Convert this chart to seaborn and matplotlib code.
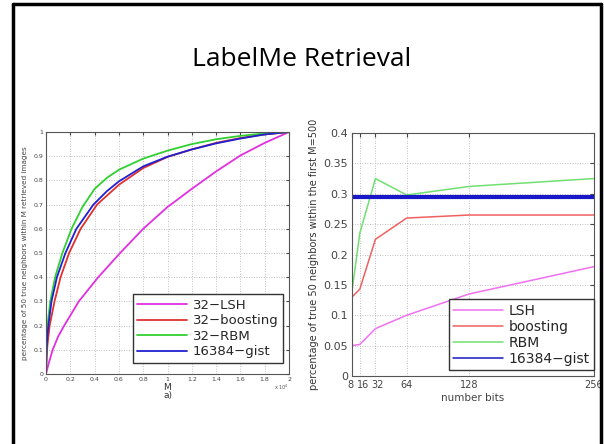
import numpy as np
import pandas as pd
import matplotlib
matplotlib.use("Agg")
import matplotlib.pyplot as plt
import matplotlib.transforms as mtransforms
import seaborn as sns
from matplotlib.lines import Line2D

# left plot: recall curves vs M (x 10^4)
lsh_x = [0, 0.02, 0.055, 0.1, 0.15, 0.27, 0.43, 0.61, 0.8, 1.0, 1.2, 1.4, 1.6, 1.8, 2.0]
lsh_y = [0, 0.04, 0.1, 0.155, 0.2, 0.3, 0.4, 0.5, 0.6, 0.69, 0.765, 0.837, 0.903, 0.955, 1.0]
boost_x = [0, 0.005, 0.012, 0.03, 0.07, 0.12, 0.19, 0.285, 0.42, 0.6, 0.8, 1.0, 1.2, 1.4, 1.6, 1.8, 2.0]
boost_y = [0, 0.07, 0.12, 0.2, 0.3, 0.4, 0.5, 0.6, 0.7, 0.782, 0.851, 0.897, 0.928, 0.955, 0.975, 0.99, 1.0]
rbm_x = [0, 0.004, 0.012, 0.035, 0.075, 0.135, 0.21, 0.3, 0.4, 0.5, 0.6, 0.8, 1.0, 1.2, 1.4, 1.6, 1.8, 2.0]
rbm_y = [0, 0.1, 0.2, 0.3, 0.4, 0.5, 0.6, 0.69, 0.765, 0.81, 0.844, 0.89, 0.923, 0.95, 0.97, 0.984, 0.994, 1.0]
gist_x = [0, 0.005, 0.01, 0.02, 0.045, 0.09, 0.16, 0.25, 0.39, 0.5, 0.6, 0.8, 1.0, 1.2, 1.4, 1.6, 1.8, 2.0]
gist_y = [0, 0.1, 0.15, 0.2, 0.3, 0.4, 0.5, 0.6, 0.7, 0.755, 0.796, 0.858, 0.898, 0.928, 0.953, 0.973, 0.99, 1.0]

# right plot: precision vs number of bits
bits = [8, 16, 32, 64, 128, 256]
lsh_b = [0.05, 0.052, 0.078, 0.1, 0.135, 0.18]
boost_b = [0.13, 0.143, 0.225, 0.26, 0.265, 0.265]
rbm_b = [0.14, 0.235, 0.325, 0.298, 0.312, 0.325]
gist_b = [0.295] * 6

sns.set_style("white")
plt.rcParams['font.family'] = ['DejaVu Sans']

fig = plt.figure(figsize=(6.04, 4.44), dpi=100)
W, H = 604, 444

def box(l, t, r, b):
    return [l / W, 1 - b / H, (r - l) / W, (b - t) / H]

ax1 = fig.add_axes(box(46, 132, 289, 374))
ax2 = fig.add_axes(box(352, 133, 594, 376))

# left
sns.lineplot(x=lsh_x, y=lsh_y, ax=ax1, color='#e030e0', lw=1.3, label='32\u2212LSH')
sns.lineplot(x=boost_x, y=boost_y, ax=ax1, color='#e03030', lw=1.3, label='32\u2212boosting')
sns.lineplot(x=rbm_x, y=rbm_y, ax=ax1, color='#30d030', lw=1.3, label='32\u2212RBM')
sns.lineplot(x=gist_x, y=gist_y, ax=ax1, color='#2020d0', lw=1.3, label='16384\u2212gist')
ax1.set_xlim(0, 2)
ax1.set_ylim(0, 1)
ax1.set_xticks(np.arange(0, 2.01, 0.2))
ax1.set_xticklabels(['0', '0.2', '0.4', '0.6', '0.8', '1', '1.2', '1.4', '1.6', '1.8', '2'])
ax1.set_yticks(np.arange(0, 1.01, 0.1))
ax1.set_yticklabels(['0', '0.1', '0.2', '0.3', '0.4', '0.5', '0.6', '0.7', '0.8', '0.9', '1'])
ax1.tick_params(labelsize=4.5, direction='in', length=2, colors='#444444', pad=2)
ax1.set_xlabel('M\na)', fontsize=6.5, labelpad=1, color='#333333', linespacing=0.9)
ax1.set_ylabel('percentage of 50 true neighbors within M retrieved images', fontsize=5.2,
               color='#444444', labelpad=4)
ax1.text(1.0, -0.035, 'x 10$^4$', transform=ax1.transAxes, fontsize=3.5, color='#555555',
         ha='right', va='top')
ax1.legend(loc='lower right', bbox_to_anchor=(0.975, 0.045), borderaxespad=0, fontsize=9.5,
           handlelength=3.8, fancybox=False, framealpha=1, edgecolor='#333333',
           borderpad=0.35, labelspacing=0.2, handletextpad=0.4)

# right
sns.lineplot(x=bits, y=lsh_b, ax=ax2, color='#f070f0', lw=1.1, label='LSH')
sns.lineplot(x=bits, y=boost_b, ax=ax2, color='#f06060', lw=1.1, label='boosting')
sns.lineplot(x=bits, y=rbm_b, ax=ax2, color='#70e070', lw=1.1, label='RBM')
sns.lineplot(x=bits, y=gist_b, ax=ax2, color='#1818c8', lw=3, label='16384\u2212gist')
ax2.set_xlim(8, 256)
ax2.set_ylim(0, 0.4)
ax2.set_xticks(bits)
ax2.set_xticklabels(['8', '16', '32', '64', '128', '256'])
ax2.set_yticks(np.arange(0, 0.401, 0.05))
ax2.set_yticklabels(['0', '0.05', '0.1', '0.15', '0.2', '0.25', '0.3', '0.35', '0.4'])
ax2.tick_params(labelsize=8, direction='in', length=3, colors='#444444', pad=3)
ax2.tick_params(axis='x', labelsize=7)
# crowded labels at 8/16/32: nudge apart a little
for lab, dx in zip(ax2.get_xticklabels()[:3], [-1.5, 3.5, 2.5]):
    lab.set_transform(lab.get_transform() +
                      mtransforms.ScaledTranslation(dx / 100, 0, fig.dpi_scale_trans))
ax2.set_xlabel('number bits', fontsize=7.5, color='#444444', labelpad=2)
ax2.set_ylabel('percentage of true 50 neighbors within the first M=500', fontsize=7,
               color='#333333', labelpad=3)
leg2 = ax2.legend(loc='lower right', bbox_to_anchor=(1.0, 0.025), borderaxespad=0, fontsize=10,
                  handlelength=3.6, fancybox=False, framealpha=1, edgecolor='#333333',
                  borderpad=0.3, labelspacing=0.15, handletextpad=0.4)
for ln in leg2.get_lines():
    ln.set_linewidth(1.1)

for ax in (ax1, ax2):
    ax.grid(True, linestyle=(0, (1, 2)), color='#aaaaaa', lw=0.6)
    for s in ax.spines.values():
        s.set_color('#555555')
        s.set_linewidth(0.8)
    ax.tick_params(top=True, right=True)

fig.text(302 / W, 1 - 60 / H, 'LabelMe Retrieval', ha='center', va='center', fontsize=19,
         family='Open Sans', color='black')

# slide border
fig.add_artist(Line2D([13 / W, 13 / W], [0, 1 - 4 / H], color='black', lw=2.5))
fig.add_artist(Line2D([13 / W, 601 / W], [1 - 4 / H, 1 - 4 / H], color='black', lw=2.5))
fig.add_artist(Line2D([601 / W, 601 / W], [0, 1 - 4 / H], color='black', lw=2.5))

fig.savefig('out.png', dpi=100)
